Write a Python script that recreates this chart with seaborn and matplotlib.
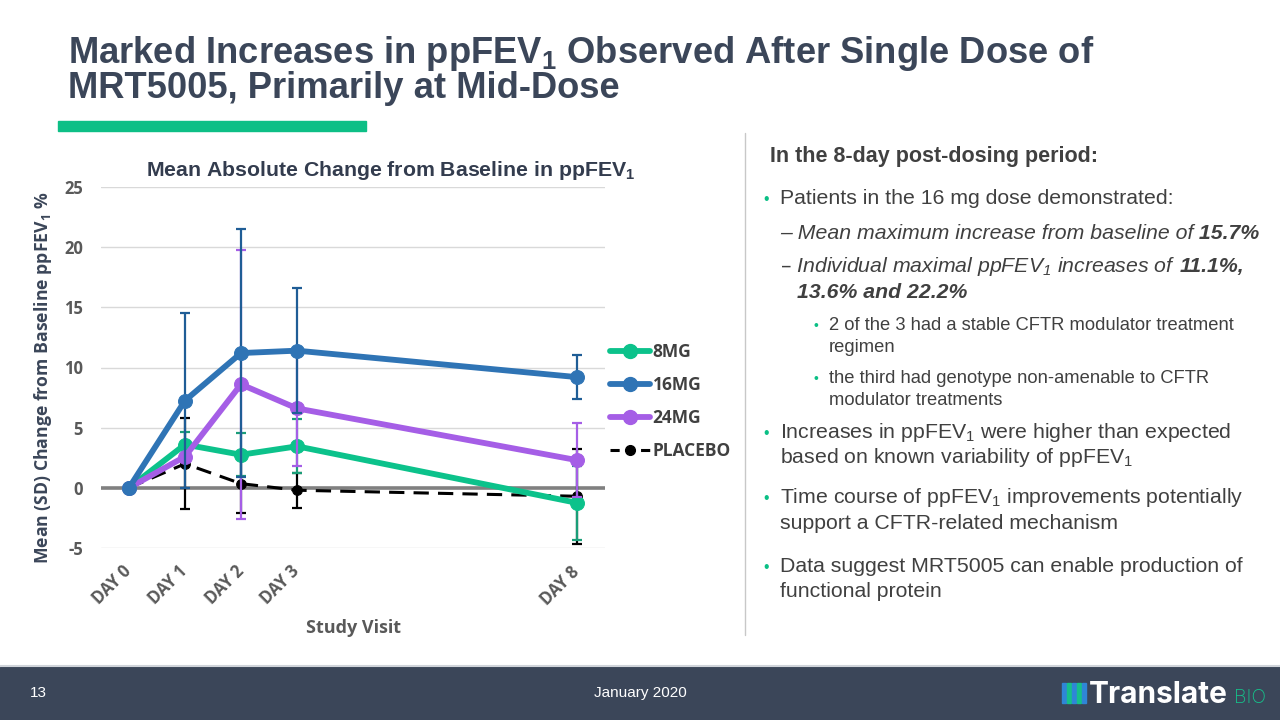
import pandas as pd
import matplotlib.pyplot as plt
import matplotlib.patches as mpatches
from matplotlib.lines import Line2D
import seaborn as sns

# chart data
days = [0, 1, 2, 3, 8]
day_labels = ['DAY 0', 'DAY 1', 'DAY 2', 'DAY 3', 'DAY 8']
groups = ['8MG', '16MG', '24MG', 'PLACEBO']
mean_8mg = [0, 3.6, 2.75, 3.45, -1.25]
mean_16mg = [0, 7.25, 11.2, 11.4, 9.2]
mean_24mg = [0, 2.6, 8.6, 6.6, 2.3]
mean_placebo = [0, 2.0, 0.35, -0.2, -0.7]
sd_8mg = [0, 1.0, 1.8, 2.25, 3.05]
sd_16mg = [0, 7.25, 10.3, 5.2, 1.8]
sd_24mg = [0, 0, 11.2, 4.8, 3.1]
sd_placebo = [0, 3.8, 2.4, 1.45, 3.95]

df = pd.DataFrame({
    'day': days * 4,
    'value': mean_8mg + mean_16mg + mean_24mg + mean_placebo,
    'sd': sd_8mg + sd_16mg + sd_24mg + sd_placebo,
    'group': [g for g in groups for _ in days],
})

colors = {'8MG': '#0cc28b', '16MG': '#2f74b5', '24MG': '#a55ee6', 'PLACEBO': '#000000'}
err_colors = {'8MG': '#1a9e78', '16MG': '#1f5d96', '24MG': '#a55ee6', 'PLACEBO': '#000000'}

sns.set_style('white')
plt.rcParams['mathtext.default'] = 'regular'
plt.rcParams['axes.unicode_minus'] = False
txt = '#404040'
navy = '#3b4659'
green = '#0bbf85'
cfont = 'Open Sans'

fig = plt.figure(figsize=(12.8, 7.2), dpi=100)
W, H = 1280, 720


def fx(x):
    return x / W


def fy(y):
    return 1 - y / H


ax = fig.add_axes([fx(101), fy(548), (605 - 101) / W, (548 - 187) / H])

# draw order: placebo under, 16MG on top
for g, z in [('PLACEBO', 3), ('8MG', 4), ('24MG', 5), ('16MG', 6)]:
    d = df[df['group'] == g]
    ax.errorbar(d['day'], d['value'], yerr=d['sd'], fmt='none', ecolor=err_colors[g],
                elinewidth=1.6, capsize=3.5, capthick=1.6, zorder=z - 0.5)
    if g == 'PLACEBO':
        sns.lineplot(data=d, x='day', y='value', color='black', lw=2.2, ls=(0, (5, 3)),
                     marker='o', ms=7, mec='black', ax=ax, zorder=z)
    else:
        sns.lineplot(data=d, x='day', y='value', color=colors[g], lw=4.2,
                     marker='o', ms=10, mec=colors[g], ax=ax, zorder=z)

ax.axhline(0, color='#808080', lw=2.6, zorder=2)
ax.set_xlim(-0.5, 8.5)
ax.set_ylim(-5, 25)
ax.set_yticks(range(-5, 26, 5))
ax.set_xticks(days)
ax.set_xticklabels(day_labels, rotation=45, ha='right', va='center', rotation_mode='anchor')
ax.grid(axis='y', color='#d9d9d9', lw=1)
ax.grid(axis='x', visible=False)
sns.despine(ax=ax, left=True, bottom=True)
ax.tick_params(axis='both', length=0, labelsize=12, labelcolor='#595959')
ax.tick_params(axis='y', pad=13)
ax.tick_params(axis='x', pad=15)
for lab in ax.get_xticklabels() + ax.get_yticklabels():
    lab.set_family(cfont)
    lab.set_weight('bold')
ax.set_xlabel('')
ax.set_ylabel('')

handles = []
for g in groups:
    if g == 'PLACEBO':
        handles.append(Line2D([], [], color='black', lw=2.2, ls=(0, (3, 2)), marker='o', ms=7))
    else:
        handles.append(Line2D([], [], color=colors[g], lw=4.2, marker='o', ms=10))
leg = ax.legend(handles, groups, loc='center left', bbox_to_anchor=(1.0, 0.405), frameon=False,
                borderaxespad=0, borderpad=0.3, handlelength=2.3, handletextpad=0.15,
                labelspacing=0.87, prop={'family': cfont, 'weight': 'bold', 'size': 12.5})
for t in leg.get_texts():
    t.set_color('#404040')

fig.text(fx(391), fy(170), 'Mean Absolute Change from Baseline in ppFEV$_1$', ha='center', va='center',
         family='Liberation Sans', weight='bold', size=15.3, color='#333c4e')
fig.text(fx(43), fy(378), 'Mean (SD) Change from Baseline ppFEV$_1$ %', rotation=90, ha='center',
         va='center', family=cfont, weight='bold', size=12.7, color=navy)
fig.text(fx(353), fy(628), 'Study Visit', ha='center', va='center', family=cfont, weight='bold',
         size=13, color='#595959')

# slide title
fig.text(fx(68), fy(63), 'Marked Increases in ppFEV$_1$ Observed After Single Dose of',
         ha='left', va='baseline', family='Liberation Sans', weight='bold', size=26.2, color=navy)
fig.text(fx(68), fy(98), 'MRT5005, Primarily at Mid-Dose',
         ha='left', va='baseline', family='Liberation Sans', weight='bold', size=26.2, color=navy)
fig.patches.append(mpatches.Rectangle((fx(58), fy(131)), (366 - 58) / W, 10 / H,
                                      transform=fig.transFigure, color='#0dbf86'))
fig.add_artist(Line2D([fx(745), fx(745)], [fy(133), fy(635)], color='#c8c8c8', lw=1))

# right-hand text
renderer = fig.canvas.get_renderer()
MAIN = 15.3
SUB = 13.2


def put(x, y, pieces, size=MAIN):
    for s, style in pieces:
        gap = style.pop('gap', 0)
        t = fig.text(fx(x + gap), fy(y), s, ha='left', va='baseline', family='Liberation Sans',
                     size=size, color=txt, **style)
        x = t.get_window_extent(renderer).x1


def bullet(x, y, size=MAIN):
    fig.text(fx(x), fy(y), '•', ha='left', va='baseline', family='Liberation Sans',
             size=size * 0.75, color=green)


put(770, 162, [('In the 8-day post-dosing period:', {'weight': 'bold'})], size=15.5)
bullet(763, 204)
put(780, 204, [('Patients in the 16 mg dose demonstrated:', {})])
put(780, 239, [('– Mean maximum increase from baseline of', {'style': 'italic'}),
               (' 15.7%', {'style': 'italic', 'weight': 'bold'})])
put(780, 272, [('– Individual maximal ppFEV$_1$ increases of', {'style': 'italic'}),
               ('11.1%,', {'style': 'italic', 'weight': 'bold', 'gap': 4})])
put(797, 298, [('13.6% and 22.2%', {'style': 'italic', 'weight': 'bold'})])
bullet(814, 330, SUB)
put(829, 330, [('2 of the 3 had a stable CFTR modulator treatment', {})], size=SUB)
put(829, 352, [('regimen', {})], size=SUB)
bullet(814, 383, SUB)
put(829, 383, [('the third had genotype non-amenable to CFTR', {})], size=SUB)
put(829, 405, [('modulator treatments', {})], size=SUB)
bullet(763, 438)
put(780, 438, [('Increases in ppFEV$_1$ were higher than expected', {})])
put(780, 463, [('based on known variability of ppFEV$_1$', {})])
bullet(763, 503)
put(780, 503, [('Time course of ppFEV$_1$ improvements potentially', {})])
put(780, 529, [('support a CFTR-related mechanism', {})])
bullet(763, 572)
put(780, 572, [('Data suggest MRT5005 can enable production of', {})])
put(780, 597, [('functional protein', {})])

# footer
fig.patches.append(mpatches.Rectangle((0, 0), 1, 53 / H, transform=fig.transFigure, color=navy))
fig.add_artist(Line2D([0, 1], [fy(666), fy(666)], color='#d0d4da', lw=1.5))
fig.text(fx(30), fy(693), '13', ha='left', va='center', family='Liberation Sans', size=11, color='white')
fig.text(fx(640), fy(693), 'January 2020', ha='center', va='center', family='Liberation Sans',
         size=11, color='white')
for i, c in enumerate(['#2f86d6', '#16c08a', '#2f86d6', '#16c08a', '#2f86d6']):
    fig.patches.append(mpatches.Rectangle((fx(1062 + i * 5), fy(703)), 4 / W, 20 / H,
                                          transform=fig.transFigure, color=c))
fig.text(fx(1089), fy(703), 'Translate', ha='left', va='baseline', family='Inter', weight='bold',
         size=21.5, color='white')
fig.text(fx(1234), fy(703), 'BIO', ha='left', va='baseline', family='Inter', weight='light',
         size=14, color='#16c08a')

fig.savefig('out.png', dpi=100)
